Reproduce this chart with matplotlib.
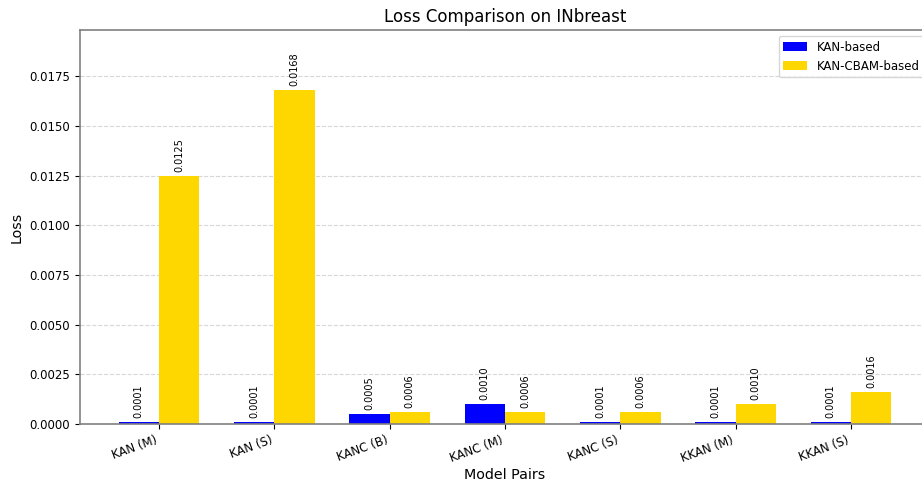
import numpy as np
import matplotlib
matplotlib.use("Agg")
import matplotlib.pyplot as plt

# loss per model pair
pairs = ["KAN (M)", "KAN (S)", "KANC (B)", "KANC (M)", "KANC (S)", "KKAN (M)", "KKAN (S)"]
kan_loss = [0.0001, 0.0001, 0.0005, 0.0010, 0.0001, 0.0001, 0.0001]
cbam_loss = [0.0125, 0.0168, 0.0006, 0.0006, 0.0006, 0.0010, 0.0016]

x = np.arange(len(pairs))
w = 0.35

fig = plt.figure(figsize=(9.22, 4.87), dpi=100)
ax = fig.add_axes([80/922, 1-424/487, 850/922, 394/487])

b1 = ax.bar(x - w/2, kan_loss, w, color="blue", label="KAN-based")
b2 = ax.bar(x + w/2, cbam_loss, w, color="gold", label="KAN-CBAM-based")

for bars in (b1, b2):
    for b in bars:
        h = b.get_height()
        ax.text(b.get_x() + b.get_width()/2, h + 0.0002, f"{h:.4f}",
                ha="center", va="bottom", rotation=90, fontsize=7)

ax.set_ylim(0, max(cbam_loss) * 1.18)
ax.set_xticks(x)
ax.set_xticklabels(pairs, rotation=20, ha="right", fontsize=8.5)
ax.tick_params(axis="y", labelsize=8.5)
ax.set_xlabel("Model Pairs", fontsize=10.3, labelpad=2)
ax.set_ylabel("Loss", fontsize=10.3)
ax.set_title("Loss Comparison on INbreast", fontsize=12)
ax.grid(axis="y", linestyle="--", alpha=0.5)
ax.set_axisbelow(True)
for s in ax.spines.values():
    s.set_color("#808080")
    s.set_linewidth(1.2)
ax.legend(loc="upper right", fontsize=8.5)

fig.savefig("out.png", dpi=100)
